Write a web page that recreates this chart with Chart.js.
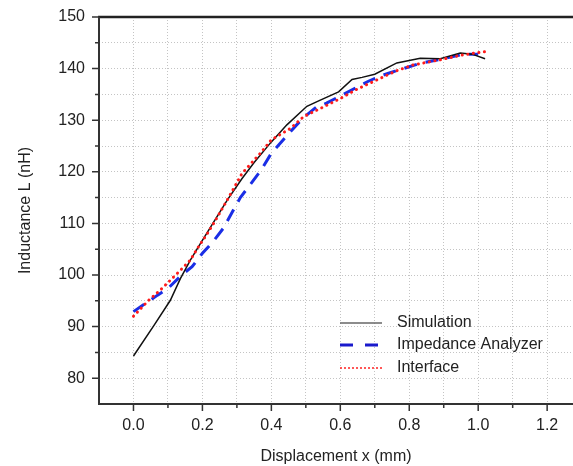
<!DOCTYPE html>
<html>
<head>
<meta charset="utf-8">
<script src="https://cdn.jsdelivr.net/npm/chart.js@4"></script>
<style>
  html, body { margin: 0; padding: 0; background: #fff; overflow: hidden; }
  #wrap { width: 573px; height: 466px; position: relative; }
</style>
</head>
<body>
<div id="wrap"><canvas id="c"></canvas></div>
<script>
// tick values (major + minor)
const xTicks = [-0.1, 0, 0.1, 0.2, 0.3, 0.4, 0.5, 0.6, 0.7, 0.8, 0.9, 1.0, 1.1, 1.2];
const xLabels = ['0.0', '0.2', '0.4', '0.6', '0.8', '1.0', '1.2'];
const yTicks = [75, 80, 85, 90, 95, 100, 105, 110, 115, 120, 125, 130, 135, 140, 145, 150];
const yLabels = ['80', '90', '100', '110', '120', '130', '140', '150'];

// Simulation
const simX = [0, 0.06, 0.107, 0.136, 0.165, 0.194, 0.272, 0.315, 0.35, 0.40, 0.445, 0.503, 0.542, 0.595, 0.634, 0.663, 0.70, 0.764, 0.832, 0.89, 0.948, 0.982, 1.02];
const simY = [84.3, 90.3, 95.1, 99.3, 102.9, 106.1, 114.5, 118.7, 121.8, 125.8, 129.1, 132.7, 133.9, 135.5, 137.9, 138.3, 138.9, 141.1, 142.0, 141.9, 143.0, 142.8, 141.9];

// Impedance Analyzer
const impX = [0, 0.07, 0.10, 0.14, 0.17, 0.20, 0.23, 0.26, 0.31, 0.37, 0.40, 0.45, 0.49, 0.53, 0.56, 0.60, 0.68, 0.71, 0.74, 0.83, 0.89, 0.96, 1.00];
const impY = [92.9, 96.1, 97.4, 100.0, 101.6, 104.2, 106.4, 109.0, 115.0, 120.3, 123.6, 127.4, 130.3, 132.5, 133.3, 134.7, 137.5, 138.4, 139.1, 141.0, 141.8, 142.8, 142.8];

// Interface
const ifX = [0, 0.044, 0.078, 0.107, 0.136, 0.165, 0.185, 0.214, 0.238, 0.27, 0.315, 0.368, 0.40, 0.455, 0.494, 0.552, 0.60, 0.648, 0.706, 0.76, 0.81, 0.89, 0.95, 1.02];
const ifY = [92.0, 95.1, 97.1, 99.0, 100.9, 102.9, 105.1, 108.0, 110.6, 114.3, 119.7, 123.6, 126.2, 128.4, 130.7, 132.6, 134.2, 136.0, 137.8, 139.5, 140.7, 141.7, 142.6, 143.3];

function pts(xs, ys) {
    return xs.map(function(x, i) { return { x: x, y: ys[i] }; });
}

const FONT = 'Liberation Sans, Arial, sans-serif';
const TEXT = '#222';

// top frame line, axis lines, outward tick marks, legend inside the plot
const decor = {
    id: 'decor',
    afterDraw: function(chart) {
        const ctx = chart.ctx;
        const a = chart.chartArea;
        const xs = chart.scales.x, ys = chart.scales.y;
        ctx.save();
        ctx.strokeStyle = '#222';
        ctx.lineWidth = 2.5;
        ctx.beginPath();
        ctx.moveTo(a.left - 1, a.top);
        ctx.lineTo(a.right, a.top);
        ctx.stroke();

        ctx.strokeStyle = '#333';
        ctx.lineWidth = 2;
        ctx.beginPath();
        ctx.moveTo(a.left, a.top);
        ctx.lineTo(a.left, a.bottom);
        ctx.lineTo(a.right, a.bottom);
        ctx.stroke();

        ctx.lineWidth = 1.5;
        ctx.beginPath();
        xTicks.forEach(function(v) {
            if (v < 0) return;
            const major = xLabels.indexOf(v.toFixed(1)) >= 0;
            const px = xs.getPixelForValue(v);
            ctx.moveTo(px, a.bottom);
            ctx.lineTo(px, a.bottom + (major ? 7 : 4));
        });
        yTicks.forEach(function(v) {
            if (v === 75) return;
            const major = yLabels.indexOf(String(v)) >= 0;
            const py = ys.getPixelForValue(v);
            ctx.moveTo(a.left, py);
            ctx.lineTo(a.left - (major ? 7 : 4), py);
        });
        ctx.stroke();

        // legend
        const rows = [323, 345, 368];
        ctx.font = '16px ' + FONT;
        ctx.textBaseline = 'middle';
        ctx.fillStyle = TEXT;
        chart.data.datasets.forEach(function(ds, i) {
            const y = rows[i];
            ctx.save();
            ctx.strokeStyle = ds.legendColor;
            ctx.lineWidth = ds.legendWidth;
            ctx.lineCap = 'butt';
            ctx.setLineDash(ds.legendDash);
            ctx.beginPath();
            ctx.moveTo(340, y);
            ctx.lineTo(382, y);
            ctx.stroke();
            ctx.restore();
            ctx.fillText(ds.label, 397, y);
        });
        ctx.restore();
    }
};

const ctx = document.getElementById('c').getContext('2d');
new Chart(ctx, {
    type: 'line',
    data: {
        datasets: [
            {
                label: 'Simulation',
                data: pts(simX, simY),
                borderColor: '#111',
                borderWidth: 1.5,
                pointRadius: 0,
                tension: 0,
                order: 1,
                legendColor: '#666',
                legendWidth: 1.5,
                legendDash: []
            },
            {
                label: 'Impedance Analyzer',
                data: pts(impX, impY),
                borderColor: '#1a2ee6',
                borderWidth: 3,
                borderDash: [13, 9],
                pointRadius: 0,
                tension: 0,
                order: 2,
                legendColor: '#1a1acc',
                legendWidth: 3,
                legendDash: [13, 12]
            },
            {
                label: 'Interface',
                data: pts(ifX, ifY),
                borderColor: '#ff1a1a',
                borderWidth: 3,
                borderDash: [0.1, 5.5],
                borderCapStyle: 'round',
                pointRadius: 0,
                tension: 0,
                order: 0,
                legendColor: '#ff2020',
                legendWidth: 1.5,
                legendDash: [2, 2]
            }
        ]
    },
    options: {
        responsive: true,
        maintainAspectRatio: false,
        animation: false,
        layout: { padding: { top: 17, right: 0, left: 0, bottom: 0 } },
        plugins: {
            legend: { display: false },
            tooltip: { enabled: false }
        },
        scales: {
            x: {
                type: 'linear',
                min: -0.1,
                max: 1.275,
                afterBuildTicks: function(scale) {
                    scale.ticks = xTicks.map(function(v) { return { value: v }; });
                },
                afterFit: function(scale) { scale.height = 62; },
                ticks: {
                    autoSkip: false,
                    maxRotation: 0,
                    padding: 12,
                    color: TEXT,
                    font: { family: FONT, size: 16 },
                    callback: function(v) {
                        const s = Number(v).toFixed(1);
                        return xLabels.indexOf(s) >= 0 ? s : '';
                    }
                },
                grid: {
                    drawTicks: false,
                    color: '#c4c4c4',
                    lineWidth: 1
                },
                border: { display: false, dash: [1, 2] },
                title: {
                    display: true,
                    text: 'Displacement x (mm)',
                    color: TEXT,
                    font: { family: FONT, size: 16 },
                    padding: { top: 0, bottom: 0 }
                }
            },
            y: {
                min: 75,
                max: 150,
                afterBuildTicks: function(scale) {
                    scale.ticks = yTicks.map(function(v) { return { value: v }; });
                },
                afterFit: function(scale) {
                    scale.width = 99;
                    scale.paddingTop = 0;
                },
                ticks: {
                    autoSkip: false,
                    padding: 14,
                    color: TEXT,
                    font: { family: FONT, size: 16 },
                    callback: function(v) {
                        return yLabels.indexOf(String(v)) >= 0 ? String(v) : '';
                    }
                },
                grid: {
                    drawTicks: false,
                    color: '#c4c4c4',
                    lineWidth: 1
                },
                border: { display: false, dash: [1, 2] },
                title: {
                    display: true,
                    text: 'Inductance L (nH)',
                    color: TEXT,
                    font: { family: FONT, size: 16 },
                    padding: { top: 16, bottom: 0 }
                }
            }
        }
    },
    plugins: [decor]
});
</script>
</body>
</html>
